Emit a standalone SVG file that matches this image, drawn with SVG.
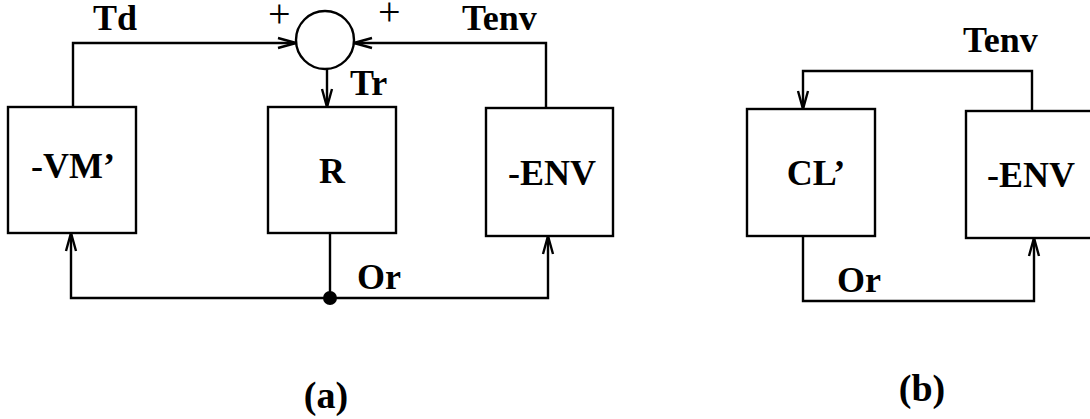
<svg xmlns="http://www.w3.org/2000/svg" width="1090" height="419" viewBox="0 0 1090 419">
<defs>
<style>
.box{fill:#fff;stroke:#000;stroke-width:2.4}
.ln{fill:none;stroke:#000;stroke-width:2.4}
.t{font-family:"Liberation Serif","Times New Roman",serif;font-weight:bold;font-size:36px;fill:#000}
.c{text-anchor:middle}
.p{font-family:"Liberation Serif","Times New Roman",serif;font-size:40px;fill:#000}
.cap{font-family:"Liberation Serif","Times New Roman",serif;font-weight:bold;font-size:38px;fill:#000;text-anchor:middle}
</style>
<marker id="ar" markerUnits="userSpaceOnUse" markerWidth="22" markerHeight="14" refX="19" refY="6" orient="auto" viewBox="0 0 22 12">
<path d="M1,1 L19,6 L1,11" fill="none" stroke="#000" stroke-width="2.4"/>
</marker>
</defs>
<rect width="1090" height="419" fill="#fff"/>
<g id="connectors">
<path class="ln" d="M73,107 V43 H296" marker-end="url(#ar)"/>
<path class="ln" d="M546,108 V43 H354" marker-end="url(#ar)"/>
<path class="ln" d="M327,69 V107" marker-end="url(#ar)"/>
<path class="ln" d="M330,233 V298"/>
<path class="ln" d="M330,298 H71 V233" marker-end="url(#ar)"/>
<path class="ln" d="M330,298 H548 V236" marker-end="url(#ar)"/>
<circle cx="330" cy="298" r="7" fill="#000"/>
<path class="ln" d="M1032,111 V71 H803 V109" marker-end="url(#ar)"/>
<path class="ln" d="M803,236 V301 H1034 V238" marker-end="url(#ar)"/>
<text class="t" x="93" y="30">Td</text>
<text class="t" x="462" y="30">Tenv</text>
<text class="t" x="350" y="95">Tr</text>
<text class="t" x="357" y="289">Or</text>
<text class="p" x="268" y="27">+</text>
<text class="p" x="378" y="25">+</text>
<text class="t" x="963" y="52">Tenv</text>
<text class="t" x="837" y="292">Or</text>
</g>
<g id="sum">
<circle cx="325" cy="40" r="29" fill="#fff" stroke="#000" stroke-width="2.4"/>
</g>
<g id="vm">
<rect class="box" x="8" y="107" width="128" height="126"/>
<text class="t c" x="73" y="178">-VM’</text>
</g>
<g id="r">
<rect class="box" x="268" y="107" width="128" height="126"/>
<text class="t c" x="332" y="183">R</text>
</g>
<g id="env-a">
<rect class="box" x="486" y="108" width="127" height="128"/>
<text class="t c" x="552" y="185">-ENV</text>
</g>
<g id="cl">
<rect class="box" x="747" y="109" width="128" height="127"/>
<text class="t c" x="816" y="185">CL’</text>
</g>
<g id="env-b">
<rect class="box" x="966" y="111" width="128" height="127"/>
<text class="t c" x="1031" y="187">-ENV</text>
</g>
<text class="cap" x="326" y="408">(a)</text>
<text class="cap" x="922" y="401">(b)</text>
</svg>
